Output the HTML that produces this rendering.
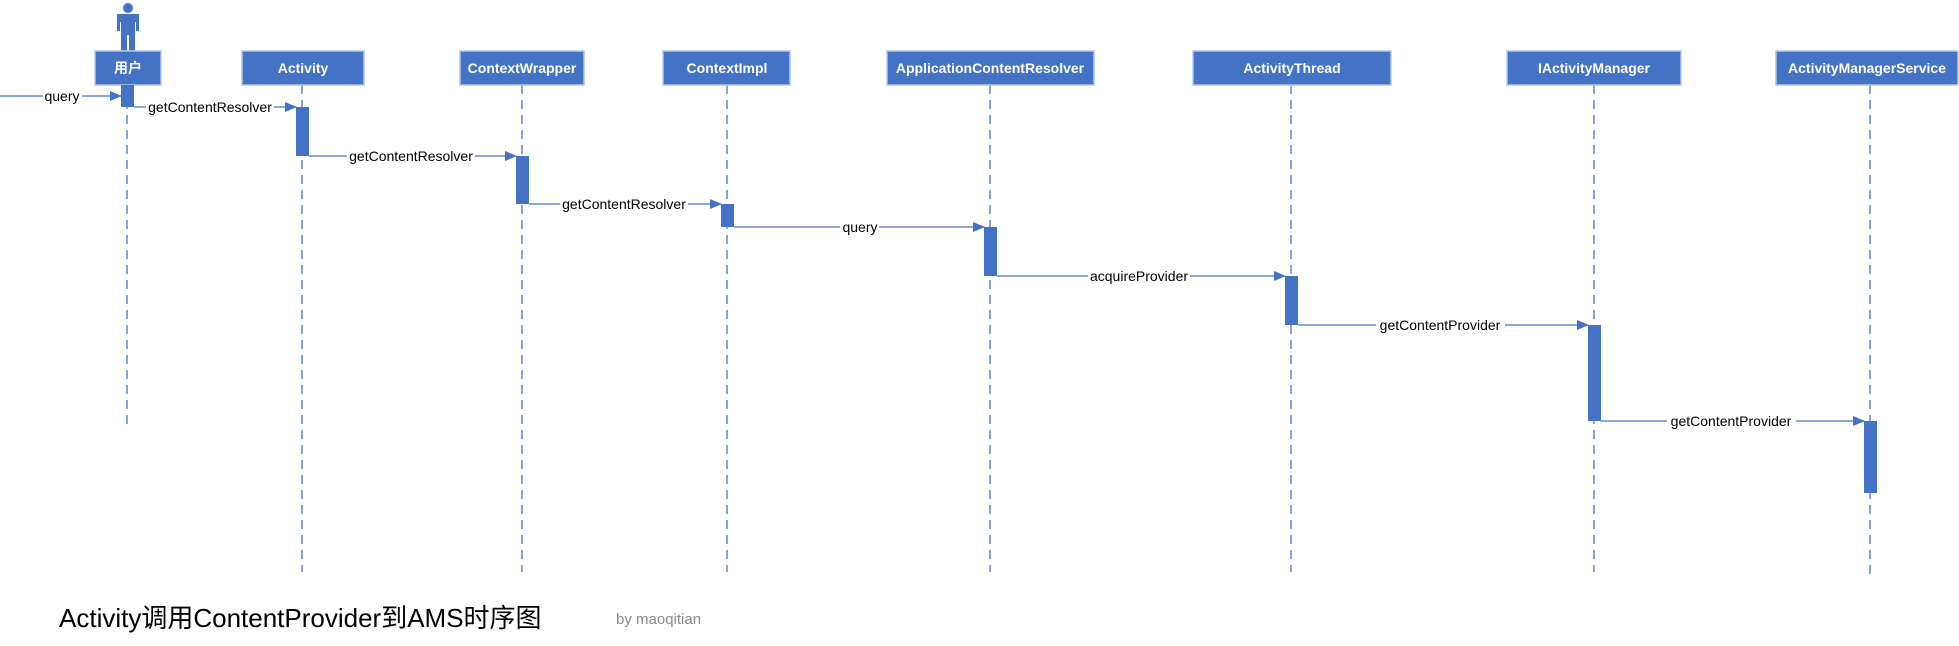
<!DOCTYPE html>
<html><head><meta charset="utf-8"><style>
html,body{margin:0;padding:0;background:#fff;}
svg{display:block;}
</style></head><body>
<svg width="1959" height="646" xmlns="http://www.w3.org/2000/svg">
<defs>
<marker id="a" markerWidth="12" markerHeight="10" refX="11" refY="5" orient="auto" markerUnits="userSpaceOnUse">
<path d="M0,0 L12,5 L0,10 z" fill="#4472C4"/></marker>
</defs>
<g fill="#4472C4">
<!-- person -->
<circle cx="128" cy="8" r="5"/>
<path d="M117,14 h22 v17 h-3 v-9 h-1 v33 h-6 v-20 h-2 v20 h-6 v-33 h-1 v9 h-3 z"/>
</g>
<g stroke="#4472C4" stroke-width="1.3" stroke-dasharray="9,6">
<line x1="127" y1="85" x2="127" y2="430"/>
<line x1="302" y1="85" x2="302" y2="572"/>
<line x1="522" y1="85" x2="522" y2="572"/>
<line x1="727" y1="85" x2="727" y2="572"/>
<line x1="990" y1="85" x2="990" y2="572"/>
<line x1="1291" y1="85" x2="1291" y2="572"/>
<line x1="1594" y1="85" x2="1594" y2="572"/>
<line x1="1870" y1="85" x2="1870" y2="576"/>
</g>
<g fill="#4472C4" stroke="#B4C7E7" stroke-width="1.5">
<rect x="95" y="51" width="66" height="34"/>
<rect x="242" y="51" width="122" height="34"/>
<rect x="460" y="51" width="124" height="34"/>
<rect x="663" y="51" width="127" height="34"/>
<rect x="887" y="51" width="207" height="34"/>
<rect x="1193" y="51" width="198" height="34"/>
<rect x="1507" y="51" width="174" height="34"/>
<rect x="1776" y="51" width="182" height="34"/>
</g>
<g fill="#fff" font-family="Liberation Sans, Noto Sans CJK SC, sans-serif" font-weight="bold" font-size="14" text-anchor="middle">
<text x="128" y="73">用户</text>
<text x="303" y="73">Activity</text>
<text x="522" y="73">ContextWrapper</text>
<text x="727" y="73">ContextImpl</text>
<text x="990" y="73">ApplicationContentResolver</text>
<text x="1292" y="73">ActivityThread</text>
<text x="1594" y="73">IActivityManager</text>
<text x="1867" y="73">ActivityManagerService</text>
</g>
<g fill="#4472C4">
<rect x="121" y="85" width="13" height="22"/>
<rect x="296" y="107" width="13" height="49"/>
<rect x="516" y="156" width="13" height="48"/>
<rect x="721" y="204" width="13" height="23"/>
<rect x="984" y="227" width="13" height="49"/>
<rect x="1285" y="276" width="13" height="49"/>
<rect x="1588" y="325" width="13" height="96"/>
<rect x="1864" y="421" width="13" height="72"/>
</g>
<g stroke="#4472C4" stroke-width="1.3" marker-end="url(#a)">
<line x1="0" y1="96" x2="121" y2="96"/>
<line x1="134" y1="107" x2="296" y2="107"/>
<line x1="309" y1="156" x2="516" y2="156"/>
<line x1="529" y1="204" x2="721" y2="204"/>
<line x1="734" y1="227" x2="984" y2="227"/>
<line x1="997" y1="276" x2="1285" y2="276"/>
<line x1="1298" y1="325" x2="1588" y2="325"/>
<line x1="1601" y1="421" x2="1864" y2="421"/>
</g>
<g font-family="Liberation Sans, sans-serif" font-size="14" text-anchor="middle" fill="#000">
<g fill="#fff"><rect x="43" y="88" width="39" height="16"/><rect x="146" y="99" width="128" height="16"/><rect x="347" y="148" width="128" height="16"/><rect x="560" y="196" width="128" height="16"/><rect x="840" y="219" width="39" height="16"/><rect x="1088" y="268" width="102" height="16"/><rect x="1376" y="317" width="129" height="16"/><rect x="1667" y="413" width="129" height="16"/></g>
<text x="62" y="101">query</text>
<text x="210" y="112">getContentResolver</text>
<text x="411" y="161">getContentResolver</text>
<text x="624" y="209">getContentResolver</text>
<text x="860" y="232">query</text>
<text x="1139" y="281">acquireProvider</text>
<text x="1440" y="330">getContentProvider</text>
<text x="1731" y="426">getContentProvider</text>
</g>
<text x="59" y="627" font-family="Liberation Sans, Noto Sans CJK SC, sans-serif" font-size="26" fill="#000">Activity调用ContentProvider到AMS时序图</text>
<text x="616" y="624" font-family="Liberation Sans, sans-serif" font-size="15" fill="#888">by  maoqitian</text>
</svg>
</body></html>
